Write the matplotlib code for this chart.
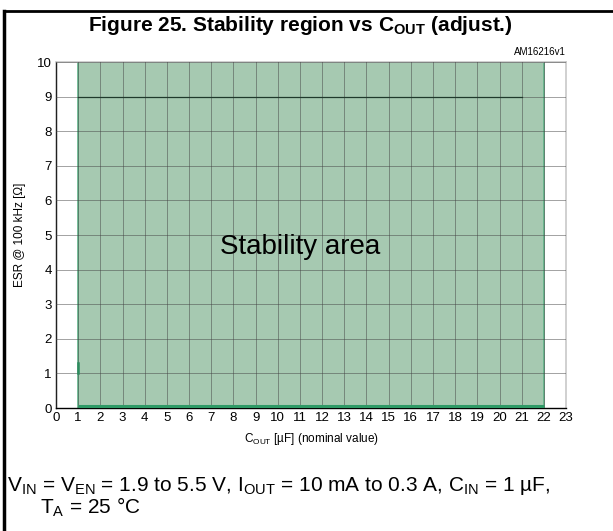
import matplotlib
matplotlib.use("Agg")
import matplotlib.pyplot as plt
from matplotlib.lines import Line2D

plt.rcParams['font.family'] = ['Liberation Sans', 'DejaVu Sans']

# stability region (C_OUT in uF, ESR in ohm)
region_cout = [1, 1, 22, 22]
region_esr = [0, 10, 10, 0]
# lower boundary of the region
low_cout = [1, 22]
low_esr = [0.06, 0.06]
# upper measured ESR line
top_cout = [1, 21]
top_esr = [9, 9]
# small step at the left edge
step_cout = [1, 1]
step_esr = [1.0, 1.3]

x_ticks = list(range(0, 24))
y_ticks = list(range(0, 11))

fig = plt.figure(figsize=(6.13, 5.31), dpi=100)
ax = fig.add_axes([0.0914, 0.2316, 0.832, 0.6516])

ax.fill(region_cout, region_esr, facecolor='#a6c9b1', edgecolor='#5fb388', lw=1.2, zorder=1)
ax.plot(low_cout, low_esr, color='#2e9a66', lw=2.2, zorder=3, solid_capstyle='butt')
ax.plot(top_cout, top_esr, color='#1f3a2c', lw=0.9, zorder=3)
ax.plot(step_cout, step_esr, color='#2e8a5e', lw=1.8, zorder=3)

ax.set_xlim(0, 23)
ax.set_ylim(0, 10)
ax.set_xticks(x_ticks)
ax.set_yticks(y_ticks)
ax.tick_params(labelsize=9.5, length=0, pad=3)
ax.grid(True, color='#444444', alpha=0.5, lw=0.7, zorder=2)
ax.set_axisbelow(False)
for s in ['top', 'right']:
    ax.spines[s].set_color('#c8c8c8')
    ax.spines[s].set_linewidth(1.2)
for s in ['left', 'bottom']:
    ax.spines[s].set_color('black')
    ax.spines[s].set_linewidth(1.0)

ax.set_xlabel('C$_{\\mathregular{OUT}}$ [µF] (nominal value)', fontsize=8.5, labelpad=5)
ax.set_ylabel('ESR @ 100 kHz [Ω]', fontsize=8.5, labelpad=8)

ax.text(11.0, 4.65, 'Stability area', fontsize=20, ha='center', va='center', zorder=4)
ax.text(23, 10.15, 'AM16216v1', fontsize=7, ha='right', va='bottom')

fig.text(0.49, 0.952, 'Figure 25. Stability region vs C$_{\\mathregular{OUT}}$ (adjust.)',
         fontsize=15, fontweight='bold', ha='center', va='center')

fig.text(0.012, 0.085, 'V$_{\\mathregular{IN}}$ = V$_{\\mathregular{EN}}$ = 1.9 to 5.5 V, '
         'I$_{\\mathregular{OUT}}$ = 10 mA to 0.3 A, C$_{\\mathregular{IN}}$ = 1 µF,',
         fontsize=15, ha='left', va='center')
fig.text(0.066, 0.045, 'T$_{\\mathregular{A}}$ = 25 °C', fontsize=15, ha='left', va='center')

# page frame
fig.add_artist(Line2D([0.007, 0.007], [0.0, 0.98], color='black', lw=2.5))
fig.add_artist(Line2D([0.007, 1.0], [0.98, 0.98], color='black', lw=2.0))

fig.savefig('out.png', dpi=100)
